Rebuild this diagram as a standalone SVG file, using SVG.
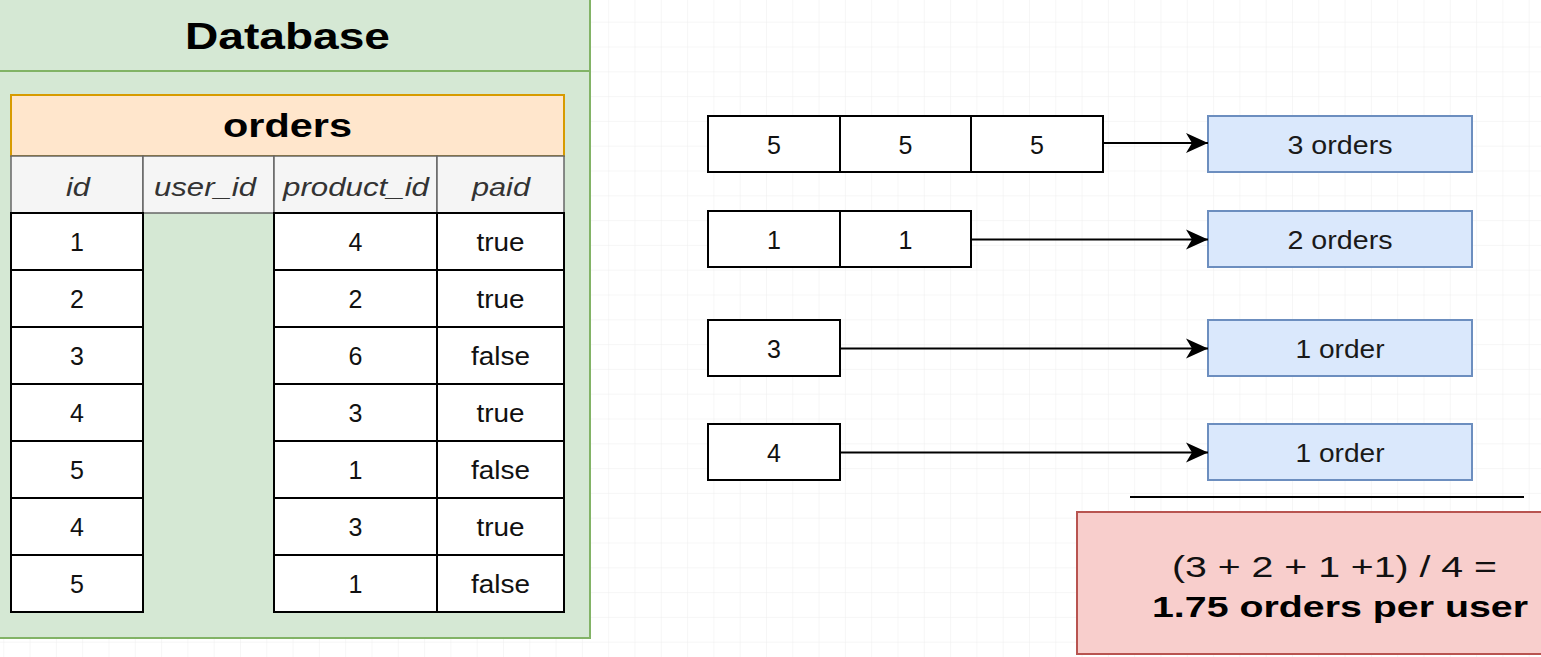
<svg xmlns="http://www.w3.org/2000/svg" width="1541" height="657" viewBox="0 0 1541 657">
  <defs>
    <pattern id="grid" x="3.3" y="21.7" width="26.3" height="24.8" patternUnits="userSpaceOnUse">
      <path d="M0,0 H26.3 M0,0 V24.8" fill="none" stroke="#eeeeee" stroke-width="1"/>
    </pattern>
    <marker id="arrow" markerUnits="userSpaceOnUse" markerWidth="24" markerHeight="22" refX="22" refY="11" orient="auto">
      <path d="M0,1 L22,11 L0,21 L6,11 Z" fill="#000"/>
    </marker>
    <style>
      text { font-family: "Liberation Sans", Arial, Helvetica, sans-serif; text-anchor: middle; }
      .title { font-weight: bold; font-size: 37px; fill: #000; }
      .tname { font-weight: bold; font-size: 34px; fill: #000; }
      .colh { font-style: italic; font-size: 26px; fill: #333; }
      .cell { fill: #fff; stroke: #000; stroke-width: 2; }
      .hcell { fill: #f5f5f5; stroke: #666; stroke-width: 1.5; }
      .val { font-size: 25px; fill: #111; }
      .box { fill: #fff; stroke: #000; stroke-width: 2; }
      .res { fill: #dae8fc; stroke: #6c8ebf; stroke-width: 2; }
      .restxt { font-size: 26.5px; fill: #1a1a1a; }
      .conn { stroke: #000; stroke-width: 2; fill: none; marker-end: url(#arrow); }
      .sum { font-size: 29px; fill: #111; }
      .sumb { font-size: 30px; font-weight: bold; fill: #000; }
    </style>
  </defs>

  <rect x="0" y="0" width="1541" height="657" fill="#ffffff"/>
  <rect x="0" y="0" width="1541" height="657" fill="url(#grid)"/>

  <g id="database">
    <rect x="-2" y="-2" width="592" height="640" fill="#d5e8d4" stroke="#82b366" stroke-width="2"/>
    <line x1="-2" y1="71" x2="590" y2="71" stroke="#82b366" stroke-width="2"/>
    <text class="title" x="287.5" y="48.5" textLength="205" lengthAdjust="spacingAndGlyphs">Database</text>
  </g>

  <g id="orders-table">
    <rect x="11" y="95" width="553" height="61" fill="#ffe6cc" stroke="#d79b00" stroke-width="2"/>
    <text class="tname" x="287.5" y="137" textLength="129" lengthAdjust="spacingAndGlyphs">orders</text>

    <g id="orders-header">
      <rect class="hcell" x="11" y="156" width="132" height="57"/>
      <rect class="hcell" x="143" y="156" width="131" height="57"/>
      <rect class="hcell" x="274" y="156" width="163" height="57"/>
      <rect class="hcell" x="437" y="156" width="127" height="57"/>
      <text class="colh" x="78" y="196" textLength="24" lengthAdjust="spacingAndGlyphs">id</text>
      <text class="colh" x="205" y="196" textLength="102" lengthAdjust="spacingAndGlyphs">user_id</text>
      <text class="colh" x="356" y="196" textLength="146" lengthAdjust="spacingAndGlyphs">product_id</text>
      <text class="colh" x="501" y="196" textLength="58" lengthAdjust="spacingAndGlyphs">paid</text>
    </g>

    <g id="col-id">
      <rect class="cell" x="11" y="213" width="132" height="57"/>
      <rect class="cell" x="11" y="270" width="132" height="57"/>
      <rect class="cell" x="11" y="327" width="132" height="57"/>
      <rect class="cell" x="11" y="384" width="132" height="57"/>
      <rect class="cell" x="11" y="441" width="132" height="57"/>
      <rect class="cell" x="11" y="498" width="132" height="57"/>
      <rect class="cell" x="11" y="555" width="132" height="57"/>
      <text class="val" x="77" y="250.5">1</text>
      <text class="val" x="77" y="307.5">2</text>
      <text class="val" x="77" y="364.5">3</text>
      <text class="val" x="77" y="421.5">4</text>
      <text class="val" x="77" y="478.5">5</text>
      <text class="val" x="77" y="535.5">4</text>
      <text class="val" x="77" y="592.5">5</text>
    </g>

    <g id="col-product_id">
      <rect class="cell" x="274" y="213" width="163" height="57"/>
      <rect class="cell" x="274" y="270" width="163" height="57"/>
      <rect class="cell" x="274" y="327" width="163" height="57"/>
      <rect class="cell" x="274" y="384" width="163" height="57"/>
      <rect class="cell" x="274" y="441" width="163" height="57"/>
      <rect class="cell" x="274" y="498" width="163" height="57"/>
      <rect class="cell" x="274" y="555" width="163" height="57"/>
      <text class="val" x="355.5" y="250.5">4</text>
      <text class="val" x="355.5" y="307.5">2</text>
      <text class="val" x="355.5" y="364.5">6</text>
      <text class="val" x="355.5" y="421.5">3</text>
      <text class="val" x="355.5" y="478.5">1</text>
      <text class="val" x="355.5" y="535.5">3</text>
      <text class="val" x="355.5" y="592.5">1</text>
    </g>

    <g id="col-paid">
      <rect class="cell" x="437" y="213" width="127" height="57"/>
      <rect class="cell" x="437" y="270" width="127" height="57"/>
      <rect class="cell" x="437" y="327" width="127" height="57"/>
      <rect class="cell" x="437" y="384" width="127" height="57"/>
      <rect class="cell" x="437" y="441" width="127" height="57"/>
      <rect class="cell" x="437" y="498" width="127" height="57"/>
      <rect class="cell" x="437" y="555" width="127" height="57"/>
      <text class="val" x="500.5" y="250.5" textLength="48" lengthAdjust="spacingAndGlyphs">true</text>
      <text class="val" x="500.5" y="307.5" textLength="48" lengthAdjust="spacingAndGlyphs">true</text>
      <text class="val" x="500.5" y="364.5" textLength="59" lengthAdjust="spacingAndGlyphs">false</text>
      <text class="val" x="500.5" y="421.5" textLength="48" lengthAdjust="spacingAndGlyphs">true</text>
      <text class="val" x="500.5" y="478.5" textLength="59" lengthAdjust="spacingAndGlyphs">false</text>
      <text class="val" x="500.5" y="535.5" textLength="48" lengthAdjust="spacingAndGlyphs">true</text>
      <text class="val" x="500.5" y="592.5" textLength="59" lengthAdjust="spacingAndGlyphs">false</text>
    </g>
  </g>

  <g id="user5-orders">
    <rect class="box" x="708" y="116" width="132" height="56"/>
    <rect class="box" x="840" y="116" width="131" height="56"/>
    <rect class="box" x="971" y="116" width="132" height="56"/>
    <text class="val" x="774" y="153.5">5</text>
    <text class="val" x="905.5" y="153.5">5</text>
    <text class="val" x="1037" y="153.5">5</text>
  </g>

  <g id="user1-orders">
    <rect class="box" x="708" y="211" width="132" height="56"/>
    <rect class="box" x="840" y="211" width="131" height="56"/>
    <text class="val" x="774" y="248.5">1</text>
    <text class="val" x="905.5" y="248.5">1</text>
  </g>

  <g id="user3-orders">
    <rect class="box" x="708" y="320" width="132" height="56"/>
    <text class="val" x="774" y="357.5">3</text>
  </g>

  <g id="user4-orders">
    <rect class="box" x="708" y="424" width="132" height="56"/>
    <text class="val" x="774" y="461.5">4</text>
  </g>

  <g id="count-3">
    <rect class="res" x="1208" y="116" width="264" height="56"/>
    <text class="restxt" x="1340" y="154" textLength="105" lengthAdjust="spacingAndGlyphs">3 orders</text>
  </g>
  <g id="count-2">
    <rect class="res" x="1208" y="211" width="264" height="56"/>
    <text class="restxt" x="1340" y="249" textLength="105" lengthAdjust="spacingAndGlyphs">2 orders</text>
  </g>
  <g id="count-1a">
    <rect class="res" x="1208" y="320" width="264" height="56"/>
    <text class="restxt" x="1340" y="358" textLength="89" lengthAdjust="spacingAndGlyphs">1 order</text>
  </g>
  <g id="count-1b">
    <rect class="res" x="1208" y="424" width="264" height="56"/>
    <text class="restxt" x="1340" y="462" textLength="89" lengthAdjust="spacingAndGlyphs">1 order</text>
  </g>

  <g id="connectors">
    <line class="conn" x1="1103" y1="143" x2="1208" y2="143"/>
    <line class="conn" x1="971" y1="239.5" x2="1208" y2="239.5"/>
    <line class="conn" x1="840" y1="348.5" x2="1208" y2="348.5"/>
    <line class="conn" x1="840" y1="452.5" x2="1208" y2="452.5"/>
  </g>

  <g id="sum-line">
    <line x1="1130" y1="497" x2="1524" y2="497" stroke="#000" stroke-width="2"/>
  </g>

  <g id="average">
    <rect x="1077" y="512" width="470" height="142" fill="#f8cecc" stroke="#b85450" stroke-width="2"/>
    <text class="sum" x="1334.5" y="577" textLength="325" lengthAdjust="spacingAndGlyphs">(3 + 2 + 1 +1) / 4 =</text>
    <text class="sumb" x="1340" y="617" textLength="376" lengthAdjust="spacingAndGlyphs">1.75 orders per user</text>
  </g>
</svg>
